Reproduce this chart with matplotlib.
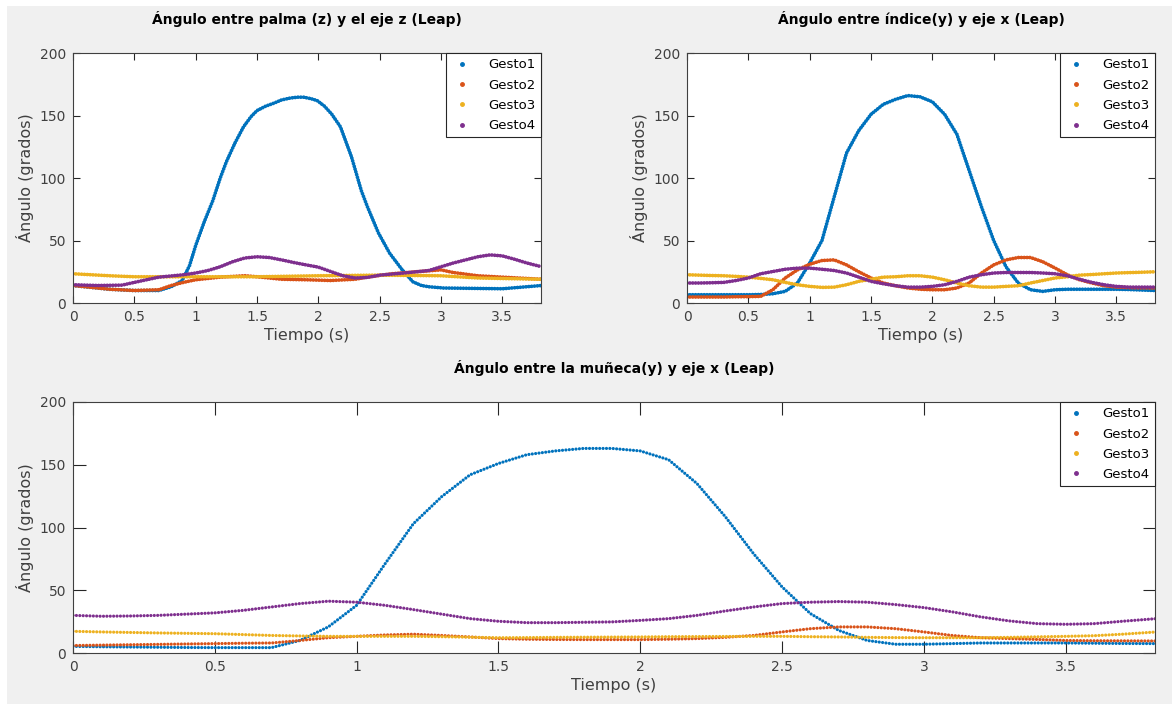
import matplotlib
matplotlib.use('Agg')
import matplotlib.pyplot as plt
import numpy as np
from matplotlib.lines import Line2D
from matplotlib.patches import Rectangle

# Colores por defecto de MATLAB
colores = ['#0072BD', '#D95319', '#EDB120', '#7E2F8E']
nombres = ['Gesto1', 'Gesto2', 'Gesto3', 'Gesto4']

# ---- Palma (z) vs eje z ----
t_palma = [0, 0.3, 0.5, 0.7, 0.8, 0.89, 0.95, 1.0, 1.07, 1.14, 1.2, 1.25, 1.32, 1.39, 1.45,
           1.5, 1.57, 1.64, 1.7, 1.77, 1.83, 1.88, 1.94, 1.99, 2.05, 2.11, 2.18, 2.27, 2.35,
           2.4, 2.49, 2.58, 2.68, 2.77, 2.84, 2.9, 3.02, 3.5, 3.82]
palma_g1 = [14, 11, 10, 10, 13, 18, 30, 46, 65, 82, 100, 113, 128, 141, 149,
            154, 157.5, 160, 162.5, 164, 164.7, 164.7, 163.5, 162, 157.5, 151, 141, 117, 90,
            77, 56, 40, 27, 17, 14, 13, 12, 11.4, 14]

t_pal2 = [0, 0.3, 0.5, 0.7, 0.8, 0.9, 1.0, 1.2, 1.4, 1.5, 1.7, 1.9, 2.1, 2.3, 2.4, 2.6,
          2.8, 3.0, 3.1, 3.3, 3.5, 3.82]
palma_g2 = [14, 11, 10, 10.6, 14, 16.5, 18.6, 20.7, 21.8, 21, 19, 18.6, 18, 19, 20.7, 23.4,
            25, 26.5, 24.4, 21.8, 20.7, 19]

t_pal3 = [0, 0.3, 0.5, 1.0, 1.5, 2.0, 2.5, 3.0, 3.3, 3.82]
palma_g3 = [23.4, 21.8, 21, 21, 21, 21.8, 22.3, 21.8, 20, 19]

t_pal4 = [0, 0.2, 0.4, 0.5, 0.7, 0.9, 1.0, 1.1, 1.2, 1.3, 1.4, 1.5, 1.6, 1.7, 1.8, 1.9,
          2.0, 2.1, 2.2, 2.3, 2.4, 2.5, 2.7, 2.9, 3.0, 3.1, 3.2, 3.3, 3.4, 3.5, 3.6, 3.7, 3.82]
palma_g4 = [14.6, 14, 14.3, 16.5, 20.7, 22.6, 24, 26, 29, 33, 36, 37, 36.4, 34.5, 32.4, 30.5,
            28.7, 25.2, 21.8, 20, 20.5, 22.3, 24, 26, 29, 32, 34.5, 37, 38.5, 37.7, 35, 32, 29]

# ---- Indice (y) vs eje x ----
t_ind = [0, 0.1, 0.2, 0.3, 0.4, 0.5, 0.6, 0.7, 0.8, 0.9, 1.0, 1.1, 1.2, 1.3, 1.4, 1.5, 1.6,
         1.7, 1.8, 1.9, 2.0, 2.1, 2.2, 2.3, 2.4, 2.5, 2.6, 2.7, 2.8, 2.9, 3.0, 3.1, 3.2,
         3.3, 3.4, 3.5, 3.6, 3.7, 3.82]
indice_g1 = [6.6, 6.6, 6.6, 6.6, 6.6, 6.6, 6.8, 7.4, 9.3, 16, 32, 50, 85, 120, 138, 151, 159,
             163, 166, 165, 161, 151, 135, 106, 77, 50, 29, 16, 10.6, 9.3, 10.6, 11, 11,
             11, 11, 11, 10.8, 10.4, 10]
indice_g2 = [4.8, 4.8, 4.8, 4.8, 5, 5.1, 5.3, 10.6, 20, 26.5, 31, 34, 34.5, 30.5, 25, 20, 16,
             13.8, 12, 11, 10.6, 10.6, 12, 16, 24, 30.5, 34.5, 36.4, 36.4, 33, 28, 22.6, 18.6,
             16, 13.8, 12.7, 12.3, 12.1, 12]
indice_g3 = [22.6, 22.3, 22, 21.8, 21.3, 20.7, 19.7, 18.6, 16.5, 14.6, 13.3, 12.5, 12.7, 14.6,
             17.3, 19, 20.7, 21, 21.8, 21.8, 20.7, 18.6, 16, 13.8, 12.7, 12.7, 13.3, 13.8, 16,
             18, 20, 21, 22.3, 22.8, 23.4, 24, 24.3, 24.6, 25]
indice_g4 = [16, 16, 16.2, 16.5, 18, 20, 23.4, 25.2, 27, 27.9, 27.9, 27, 26, 24, 20.7, 17.3,
             15.4, 13.8, 12.7, 12.7, 13.3, 14.6, 17.3, 20.7, 22.6, 24, 24.4, 24.4, 24.4, 24,
             23.4, 21.8, 19, 16.5, 14.6, 13.3, 12.7, 12.7, 12.7]

# ---- Muneca (y) vs eje x ----
t_mun = [0, 0.1, 0.2, 0.3, 0.4, 0.5, 0.6, 0.7, 0.8, 0.9, 1.0, 1.1, 1.2, 1.3, 1.4, 1.5, 1.6,
         1.7, 1.8, 1.9, 2.0, 2.1, 2.2, 2.3, 2.4, 2.5, 2.6, 2.7, 2.8, 2.9, 3.0, 3.1, 3.2,
         3.3, 3.4, 3.5, 3.6, 3.7, 3.82]
muneca_g1 = [5.3, 5, 4.8, 4.6, 4.4, 4.3, 4.3, 4.3, 10, 20.8, 38, 71, 103, 124.6, 142, 151,
             158, 161, 163, 163, 161, 154, 135, 108.6, 79, 52.7, 31.4, 18, 10, 7, 7, 7.5, 8,
             8, 8, 8, 7.8, 7.6, 7.5]
muneca_g2 = [6, 6.3, 6.6, 6.9, 7.2, 7.5, 7.8, 8, 10, 12.2, 13.3, 14.4, 15, 14, 12.8, 11.5, 11,
             10.8, 10.7, 10.7, 10.7, 11, 11.5, 12.5, 14, 16.8, 19.4, 20.8, 20.8, 19.4, 16.8,
             14, 12.2, 11.5, 10.8, 10, 9.8, 9.7, 9.6]
muneca_g3 = [17.3, 16.8, 16.4, 16, 15.7, 15.4, 14.7, 14, 13.6, 13.3, 13.3, 13.3, 13.3, 13, 12.6,
             12.2, 12.3, 12.5, 12.6, 12.7, 12.8, 13, 13.1, 13.2, 13.3, 13.3, 13, 12.8, 12.5,
             12.3, 12.2, 12.2, 12.2, 12.5, 12.9, 13.3, 13.8, 15, 16.8]
muneca_g4 = [30, 29.3, 29.5, 30, 31, 32, 34, 36.7, 39.4, 41.3, 40.5, 38, 34.6, 31, 27.4, 25.3,
             24.2, 24.2, 24.5, 24.8, 26, 27.4, 30, 33.5, 36.7, 39.4, 40.5, 41, 40.5, 38.6, 36.2,
             32.8, 28.8, 25.6, 23.4, 22.9, 23.4, 25.3, 27.4]

xticks = [0, 0.5, 1, 1.5, 2, 2.5, 3, 3.5]
yticks = [0, 50, 100, 150, 200]

fig = plt.figure(figsize=(11.72, 7.04), dpi=100, facecolor='white')
fig.patches.append(Rectangle((7 / 1172, 0), 1, 1 - 6 / 704, transform=fig.transFigure,
                             facecolor='#f0f0f0', edgecolor='none', zorder=-10))


def dibujar(ax, series, titulo, denso):
    for (t, y), c in zip(series, colores):
        if denso:
            ax.plot(t, y, color=c, lw=2.7, ls=(0, (0.01, 0.75)), dash_capstyle='round',
                    solid_joinstyle='round')
        else:
            ax.plot(t, y, color=c, lw=2.3, ls=(0, (0.01, 1.05)), dash_capstyle='round')
    ax.set_xlim(0, 3.815)
    ax.set_ylim(0, 200)
    ax.set_xticks(xticks)
    ax.set_xticklabels(['0', '0.5', '1', '1.5', '2', '2.5', '3', '3.5'])
    ax.set_yticks(yticks)
    largo = 5 if denso else 9
    ax.tick_params(direction='in', top=True, right=True, length=largo, width=0.8,
                   colors='#262626', labelsize=10, labelcolor='#404040', pad=5)
    for s in ax.spines.values():
        s.set_color('#404040')
        s.set_linewidth(0.8)
    ax.set_xlabel('Tiempo (s)', fontsize=11.5, color='#404040', labelpad=3)
    ax.set_ylabel('Ángulo (grados)', fontsize=11.5, color='#404040', labelpad=4)
    ax.set_title(titulo, fontsize=10, fontweight='bold', pad=21)
    handles = [Line2D([], [], ls='none', marker='.', markersize=5, color=c) for c in colores]
    leg = ax.legend(handles, nombres, loc='upper right', borderaxespad=0, fontsize=9.5,
                    fancybox=False, framealpha=1, edgecolor='#262626', handlelength=1.6,
                    handletextpad=1.2, borderpad=0.4, labelspacing=0.55)
    leg.get_frame().set_linewidth(0.8)


ax1 = fig.add_axes([0.0623, 0.5696, 0.3993, 0.355])
dibujar(ax1, [(t_palma, palma_g1), (t_pal2, palma_g2), (t_pal3, palma_g3), (t_pal4, palma_g4)],
        'Ángulo entre palma (z) y el eje z (Leap)', True)

ax2 = fig.add_axes([0.5862, 0.5696, 0.3993, 0.355])
dibujar(ax2, [(t_ind, indice_g1), (t_ind, indice_g2), (t_ind, indice_g3), (t_ind, indice_g4)],
        'Ángulo entre índice(y) y eje x (Leap)', True)

ax3 = fig.add_axes([0.0623, 0.0724, 0.9232, 0.3566])
dibujar(ax3, [(t_mun, muneca_g1), (t_mun, muneca_g2), (t_mun, muneca_g3), (t_mun, muneca_g4)],
        'Ángulo entre la muñeca(y) y eje x (Leap)', False)

fig.savefig('out.png', dpi=100, facecolor=fig.get_facecolor())
